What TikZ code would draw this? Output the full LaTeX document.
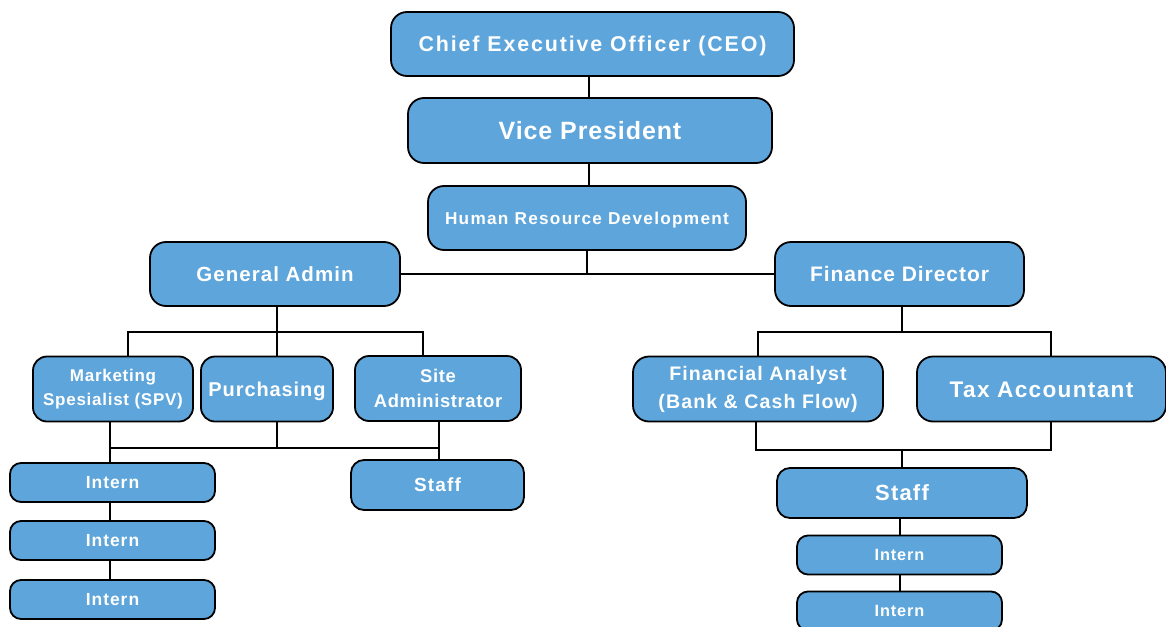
\documentclass[tikz,border=0pt]{standalone}
\usepackage{fontspec}
\setmainfont{Liberation Sans}
\definecolor{boxblue}{HTML}{5DA5DA}
\newcommand{\fsl}[3]{\bfseries\fontsize{#1}{#3}\selectfont\addfontfeature{LetterSpace=#2}}
\begin{document}
\begin{tikzpicture}[x=1pt,y=-1pt,
  box/.style={draw=black, line width=1.8pt, fill=boxblue, rounded corners=16pt,
    text=white, align=center, inner sep=0pt, anchor=center},
  one/.style={text height={0.716*#1pt}, text depth=0pt},
  conn/.style={draw=black, line width=1.8pt}]
\useasboundingbox (0,0) rectangle (1166,626);
% level 1-3
\node[box, one=21.4, minimum width=403pt, minimum height=64pt, font=\fsl{21.4}{8.8}{24}] (ceo) at (592.5,44) {Chief Executive Officer (CEO)};
\node[box, one=25, minimum width=364pt, minimum height=65pt, font=\fsl{25}{3.6}{28}] (vp) at (590,130.5) {Vice President};
\node[box, one=17.2, minimum width=318pt, minimum height=64pt, font=\fsl{17.2}{7.5}{20}] (hrd) at (587,218) {Human Resource Development};
\node[box, one=20.5, minimum width=250pt, minimum height=64pt, font=\fsl{20.5}{5}{24}] (ga) at (275,274) {General Admin};
\node[box, one=21, minimum width=249pt, minimum height=64pt, font=\fsl{21}{4.5}{24}] (fd) at (899.5,274) {Finance Director};
% left branch
\node[box, minimum width=160pt, minimum height=65pt, rounded corners=14pt, font=\fsl{17}{4.3}{23.5}] (mkt) at (113,389) {Marketing\\Spesialist (SPV)};
\node[box, one=20, minimum width=132pt, minimum height=65pt, rounded corners=14pt, font=\fsl{20}{4.5}{24}] (pur) at (267,389) {Purchasing};
\node[box, minimum width=166pt, minimum height=65pt, rounded corners=14pt, font=\fsl{18.4}{3.5}{25}] (site) at (438,388.5) {Site\\Administrator};
\node[box, one=17.5, minimum width=205pt, minimum height=39pt, rounded corners=11pt, font=\fsl{17.5}{5.5}{20}] (in1) at (112.5,482.5) {Intern};
\node[box, one=17.5, minimum width=205pt, minimum height=39pt, rounded corners=11pt, font=\fsl{17.5}{5.5}{20}] (in2) at (112.5,540.5) {Intern};
\node[box, one=17.5, minimum width=205pt, minimum height=39pt, rounded corners=11pt, font=\fsl{17.5}{5.5}{20}] (in3) at (112.5,599.5) {Intern};
\node[box, one=19, minimum width=173pt, minimum height=50pt, rounded corners=13pt, font=\fsl{19}{6}{22}] (stl) at (437.5,485) {Staff};
% right branch
\node[box, minimum width=250pt, minimum height=65pt, rounded corners=16pt, font=\fsl{19.6}{5.5}{28}] (fa) at (758,389) {Financial Analyst\\(Bank \& Cash Flow)};
\node[box, one=22.4, minimum width=249pt, minimum height=65pt, rounded corners=16pt, font=\fsl{22.6}{5.8}{26}] (tax) at (1041.5,389) {Tax Accountant};
\node[box, one=22, minimum width=250pt, minimum height=50pt, rounded corners=13pt, font=\fsl{22}{5.5}{26}] (str) at (902,493) {Staff};
\node[box, one=16.3, minimum width=205pt, minimum height=39pt, rounded corners=11pt, font=\fsl{16.3}{5.5}{18}] (ir1) at (899.5,555) {Intern};
\node[box, one=16.3, minimum width=205pt, minimum height=39pt, rounded corners=11pt, font=\fsl{16.3}{5.5}{18}] (ir2) at (899.5,611) {Intern};
% bus coordinates
\coordinate (gabus) at (277,332);
\coordinate (m1) at (128,332);
\coordinate (s1) at (423,332);
\coordinate (lbus) at (277,448);
\coordinate (m2) at (110,448);
\coordinate (s2) at (439,448);
\coordinate (fdbus) at (902,332);
\coordinate (f1) at (758,332);
\coordinate (t1) at (1051,332);
\coordinate (rbus) at (902,450);
\coordinate (f2) at (756,450);
\coordinate (t2) at (1051,450);
% connectors
\draw[conn] (vp.north -| 589,0) -- (ceo.south -| 589,0);
\draw[conn] (hrd.north -| 589,0) -- (vp.south -| 589,0);
\draw[conn] (hrd.south) -- (hrd.south |- ga.east);
\draw[conn] (ga.east) -- (fd.west);
% left
\draw[conn] (ga.south -| gabus) -- (gabus);
\draw[conn] (m1 |- mkt.north) -- (m1) -- (s1) -- (s1 |- site.north);
\draw[conn] (gabus) -- (gabus |- pur.north);
\draw[conn] (m2 |- mkt.south) -- (m2) -- (s2);
\draw[conn] (lbus |- pur.south) -- (lbus);
\draw[conn] (s2 |- site.south) -- (s2 |- stl.north);
\draw[conn] (m2) -- (m2 |- in1.north);
\draw[conn] (in1.south -| m2) -- (in2.north -| m2);
\draw[conn] (in2.south -| m2) -- (in3.north -| m2);
% right
\draw[conn] (fd.south -| fdbus) -- (fdbus);
\draw[conn] (f1 |- fa.north) -- (f1) -- (t1) -- (t1 |- tax.north);
\draw[conn] (f2 |- fa.south) -- (f2) -- (t2) -- (t2 |- tax.south);
\draw[conn] (rbus) -- (rbus |- str.north);
\draw[conn] (str.south -| 900,0) -- (ir1.north -| 900,0);
\draw[conn] (ir1.south -| 900,0) -- (ir2.north -| 900,0);
\end{tikzpicture}
\end{document}
